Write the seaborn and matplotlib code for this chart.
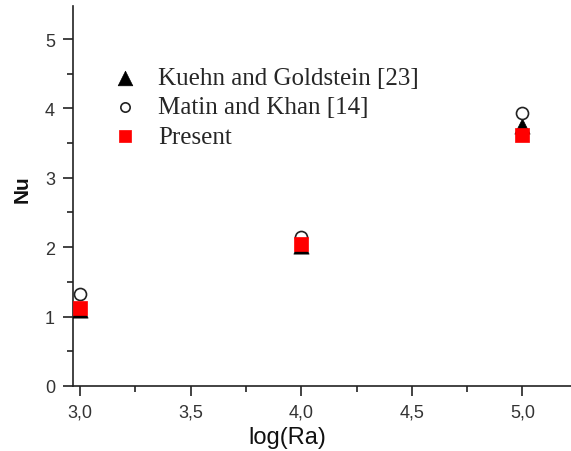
import matplotlib
matplotlib.use("Agg")
import matplotlib.pyplot as plt
from matplotlib.ticker import FuncFormatter, MultipleLocator
import seaborn as sns

sns.set_theme(style="ticks")
plt.rcParams['font.family'] = ['Liberation Sans', 'DejaVu Sans']

# --- DATA ---
log_ra = [3.0, 4.0, 5.0]
nu_kuehn = [1.10, 2.01, 3.75]
nu_matin = [1.33, 2.15, 3.93]
nu_present = [1.12, 2.05, 3.61]

fig = plt.figure(figsize=(5.71, 4.52), dpi=100)
ax = fig.add_axes([0.128, 0.144, 0.872, 0.841])

sns.scatterplot(x=log_ra, y=nu_kuehn, ax=ax, marker='^', s=120, color='black',
                edgecolor='black', linewidth=0.5, label='Kuehn and Goldstein [23]', zorder=3)
sns.scatterplot(x=log_ra, y=nu_matin, ax=ax, marker='o', s=75, facecolor='white',
                edgecolor='#222222', linewidth=1.2, label='Matin and Khan [14]', zorder=3)
sns.scatterplot(x=log_ra, y=nu_present, ax=ax, marker='s', s=90, color='#ff0000',
                edgecolor='#ff0000', linewidth=0.5, label='Present', zorder=4)

ax.set_xlim(2.968, 5.22)
ax.set_ylim(0, 5.48)
ax.xaxis.set_major_locator(MultipleLocator(0.5))
ax.xaxis.set_minor_locator(MultipleLocator(0.25))
ax.yaxis.set_major_locator(MultipleLocator(1))
ax.yaxis.set_minor_locator(MultipleLocator(0.5))
ax.xaxis.set_major_formatter(FuncFormatter(lambda v, p: f"{v:.1f}".replace('.', ',')))
ax.yaxis.set_major_formatter(FuncFormatter(lambda v, p: f"{v:.0f}"))

for side in ['top', 'right']:
    ax.spines[side].set_visible(False)
for side in ['left', 'bottom']:
    ax.spines[side].set_linewidth(1.2)
    ax.spines[side].set_color('#222222')

ax.tick_params(axis='both', which='major', length=7, width=1.2, color='#222222',
               labelsize=13, labelcolor='#333333', direction='out', pad=6)
ax.tick_params(axis='both', which='minor', length=4, width=1.2, color='#222222', direction='out')

ax.set_xlabel("log(Ra)", fontsize=17, color='#111111')
ax.xaxis.set_label_coords(0.43, -0.105)
ax.set_ylabel("Nu", fontsize=15, fontweight='bold', color='#111111')
ax.yaxis.set_label_coords(-0.083, 0.52)

leg = ax.legend(loc='upper left', bbox_to_anchor=(0.06, 0.866), frameon=False,
                prop={'family': 'Liberation Serif', 'size': 18}, handletextpad=0.8,
                labelspacing=0.27, borderaxespad=0, handlelength=1.0)
# legend symbols: big triangle, small open circle, medium square
for h, size in zip(leg.legend_handles, [110, 45, 70]):
    h.set_sizes([size])

fig.savefig("out.png", dpi=100)
